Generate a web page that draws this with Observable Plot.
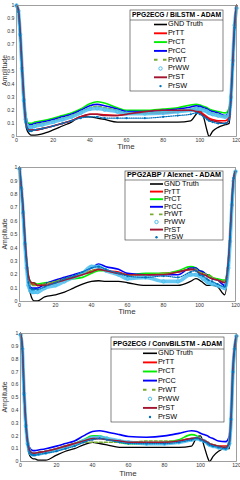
<!DOCTYPE html>
<html><head><meta charset="utf-8">
<script src="https://cdn.jsdelivr.net/npm/d3@7"></script>
<script src="https://cdn.jsdelivr.net/npm/@observablehq/plot@0.6"></script>
<style>
body{margin:0;background:#fff;width:240px;overflow:hidden}
#chart svg{display:block}
</style></head><body><div id="chart"></div>
<script>
// ---------- data ----------
const T = [0,1,2,3,4,5,6,7,8,10,14,20,25,30,35,40,44,48,55,60,70,80,88,95,98,100,102,104,105,107,110,114,116,117,118,119,120];
const xTicks = [0,20,40,60,80,100,120];
const yTicks = [0,0.1,0.2,0.3,0.4,0.5,0.6,0.7,0.8,0.9,1];
const seriesNames = ["GND Truth","PrTT","PrCT","PrCC","PrWT","PrWW","PrST","PrSW"];
const panelTitles = ["PPG2ECG / BiLSTM - ADAM","PPG2ABP / Alexnet - ADAM","PPG2ECG / ConvBiLSTM - ADAM"];

// Panel 1: PPG2ECG / BiLSTM
const p1Gnd = [1.0,0.98,0.78,0.5,0.25,0.09,0.04,0.02,0.01,0.01,0.02,0.05,0.08,0.11,0.15,0.15,0.14,0.13,0.11,0.11,0.11,0.11,0.11,0.12,0.17,0.2,0.15,0.04,0.0,0.04,0.07,0.09,0.1,0.3,0.6,0.88,1.0];
const p1TT  = [1.0,0.97,0.8,0.54,0.3,0.13,0.07,0.05,0.05,0.05,0.06,0.08,0.1,0.12,0.15,0.17,0.17,0.165,0.16,0.17,0.18,0.18,0.19,0.2,0.2,0.19,0.17,0.15,0.14,0.13,0.12,0.12,0.15,0.3,0.58,0.86,1.0];
const p1CT  = [1.0,0.97,0.8,0.55,0.32,0.17,0.11,0.1,0.1,0.11,0.12,0.14,0.16,0.18,0.21,0.25,0.265,0.255,0.22,0.2,0.2,0.21,0.22,0.24,0.245,0.24,0.23,0.22,0.21,0.2,0.19,0.18,0.22,0.35,0.6,0.85,1.0];
const p1CC  = [1.0,0.97,0.8,0.55,0.32,0.16,0.1,0.09,0.09,0.1,0.11,0.13,0.15,0.17,0.2,0.235,0.245,0.235,0.21,0.19,0.19,0.2,0.21,0.225,0.235,0.23,0.22,0.21,0.2,0.19,0.18,0.16,0.2,0.35,0.62,0.88,1.0];
const p1WT  = [1.0,0.97,0.8,0.55,0.31,0.15,0.09,0.08,0.08,0.09,0.1,0.12,0.14,0.16,0.19,0.22,0.23,0.22,0.2,0.18,0.18,0.19,0.2,0.21,0.22,0.22,0.21,0.2,0.19,0.18,0.17,0.15,0.18,0.32,0.6,0.86,1.0];
const p1WW  = [1.0,0.96,0.78,0.52,0.28,0.13,0.08,0.07,0.07,0.08,0.09,0.11,0.13,0.15,0.18,0.21,0.215,0.205,0.19,0.175,0.175,0.18,0.19,0.2,0.21,0.21,0.2,0.19,0.18,0.17,0.16,0.15,0.17,0.3,0.58,0.85,0.98];
const p1ST  = [1.0,0.97,0.8,0.54,0.3,0.12,0.06,0.05,0.05,0.05,0.06,0.08,0.1,0.12,0.15,0.17,0.17,0.16,0.16,0.17,0.19,0.2,0.2,0.2,0.19,0.18,0.16,0.14,0.13,0.12,0.11,0.1,0.13,0.3,0.58,0.86,1.0];
const p1SW  = [1.0,0.95,0.77,0.5,0.27,0.11,0.06,0.04,0.04,0.05,0.06,0.08,0.1,0.12,0.14,0.15,0.15,0.14,0.14,0.14,0.14,0.15,0.16,0.17,0.18,0.17,0.15,0.13,0.12,0.11,0.1,0.1,0.13,0.28,0.55,0.83,0.98];

// Panel 2: PPG2ABP / Alexnet
const p2Gnd = [1.0,0.85,0.66,0.44,0.26,0.13,0.06,0.02,0.005,0.005,0.035,0.05,0.07,0.1,0.13,0.15,0.155,0.15,0.15,0.14,0.12,0.12,0.12,0.15,0.17,0.16,0.14,0.12,0.12,0.12,0.11,0.05,0.25,0.45,0.7,0.9,0.97];
const p2TT  = [1.0,0.86,0.7,0.47,0.3,0.18,0.14,0.13,0.13,0.12,0.13,0.15,0.17,0.19,0.21,0.23,0.24,0.23,0.22,0.2,0.2,0.21,0.22,0.24,0.24,0.22,0.21,0.2,0.2,0.18,0.16,0.15,0.3,0.5,0.75,0.93,0.97];
const p2CT  = [1.0,0.86,0.7,0.48,0.3,0.19,0.15,0.14,0.14,0.13,0.14,0.15,0.16,0.17,0.18,0.21,0.23,0.23,0.21,0.2,0.21,0.21,0.23,0.26,0.25,0.23,0.22,0.2,0.2,0.18,0.17,0.16,0.3,0.5,0.75,0.93,0.97];
const p2CC  = [1.0,0.85,0.68,0.45,0.28,0.15,0.11,0.1,0.1,0.1,0.13,0.16,0.18,0.2,0.22,0.25,0.28,0.26,0.24,0.21,0.2,0.2,0.2,0.25,0.25,0.23,0.22,0.2,0.19,0.17,0.16,0.12,0.28,0.5,0.75,0.93,0.97];
const p2WT  = [1.0,0.86,0.69,0.47,0.29,0.17,0.13,0.12,0.12,0.12,0.13,0.15,0.17,0.19,0.21,0.23,0.24,0.23,0.21,0.2,0.2,0.21,0.22,0.24,0.24,0.22,0.21,0.2,0.19,0.18,0.16,0.15,0.3,0.5,0.75,0.93,0.97];
const p2WW  = [0.99,0.84,0.66,0.43,0.25,0.12,0.08,0.07,0.07,0.07,0.1,0.12,0.15,0.18,0.21,0.26,0.26,0.23,0.2,0.17,0.18,0.15,0.15,0.2,0.2,0.19,0.17,0.15,0.14,0.13,0.12,0.1,0.25,0.45,0.72,0.9,0.97];
const p2ST  = [1.0,0.86,0.7,0.48,0.3,0.19,0.15,0.14,0.14,0.12,0.12,0.14,0.16,0.18,0.2,0.22,0.24,0.23,0.21,0.2,0.2,0.2,0.22,0.24,0.23,0.21,0.2,0.19,0.18,0.17,0.16,0.14,0.3,0.5,0.75,0.93,0.97];
const p2SW  = [0.99,0.85,0.67,0.44,0.27,0.14,0.1,0.09,0.09,0.09,0.11,0.14,0.17,0.19,0.22,0.25,0.26,0.24,0.21,0.19,0.18,0.19,0.18,0.22,0.23,0.2,0.19,0.17,0.16,0.15,0.13,0.11,0.27,0.48,0.74,0.92,0.97];

// Panel 3: PPG2ECG / ConvBiLSTM
const p3Gnd = [1.0,0.9,0.55,0.28,0.12,0.05,0.03,0.02,0.02,0.01,0.01,0.05,0.08,0.1,0.13,0.15,0.14,0.13,0.11,0.11,0.11,0.11,0.11,0.12,0.19,0.2,0.12,0.03,0.0,0.04,0.08,0.1,0.1,0.3,0.6,0.88,0.98];
const p3TT  = [1.0,0.9,0.55,0.3,0.15,0.09,0.07,0.065,0.065,0.07,0.08,0.1,0.12,0.14,0.16,0.175,0.18,0.175,0.16,0.15,0.14,0.15,0.16,0.18,0.18,0.17,0.16,0.15,0.14,0.13,0.12,0.12,0.15,0.35,0.72,0.9,0.98];
const p3CT  = [1.0,0.9,0.55,0.3,0.15,0.09,0.07,0.065,0.065,0.07,0.08,0.1,0.12,0.14,0.17,0.2,0.2,0.18,0.15,0.14,0.14,0.15,0.17,0.21,0.2,0.18,0.16,0.15,0.14,0.13,0.12,0.11,0.15,0.35,0.72,0.9,0.98];
const p3CC  = [1.0,0.9,0.56,0.3,0.16,0.11,0.09,0.085,0.085,0.09,0.1,0.12,0.14,0.16,0.2,0.235,0.24,0.23,0.21,0.195,0.19,0.2,0.22,0.24,0.235,0.22,0.21,0.2,0.19,0.18,0.16,0.155,0.2,0.4,0.75,0.92,0.98];
const p3WT  = [1.0,0.9,0.55,0.3,0.15,0.09,0.07,0.06,0.06,0.065,0.075,0.09,0.11,0.13,0.15,0.15,0.15,0.15,0.15,0.15,0.16,0.16,0.16,0.18,0.18,0.17,0.16,0.15,0.14,0.13,0.12,0.11,0.15,0.35,0.72,0.9,0.98];
const p3WW  = [0.99,0.88,0.53,0.28,0.14,0.08,0.06,0.055,0.055,0.06,0.07,0.09,0.11,0.13,0.16,0.185,0.19,0.18,0.16,0.15,0.14,0.14,0.15,0.17,0.18,0.17,0.16,0.14,0.13,0.12,0.11,0.1,0.14,0.33,0.7,0.88,0.98];
const p3ST  = [1.0,0.9,0.55,0.3,0.15,0.09,0.07,0.065,0.065,0.07,0.08,0.1,0.12,0.14,0.16,0.18,0.18,0.17,0.16,0.15,0.15,0.15,0.16,0.18,0.185,0.175,0.165,0.15,0.14,0.13,0.12,0.11,0.15,0.35,0.72,0.9,0.98];
const p3SW  = [0.99,0.88,0.52,0.27,0.13,0.07,0.055,0.05,0.05,0.055,0.065,0.08,0.1,0.12,0.15,0.17,0.18,0.17,0.15,0.14,0.14,0.14,0.15,0.17,0.18,0.17,0.155,0.14,0.13,0.12,0.11,0.1,0.14,0.33,0.7,0.88,0.98];

// ---------- styles / layout ----------
const FONT = "'Liberation Sans', Arial, Helvetica, sans-serif";
const styles = [
  {type:"line", color:"#000000", w:1.3},
  {type:"line", color:"#ff0000", w:1.6},
  {type:"line", color:"#00ee00", w:1.6},
  {type:"line", color:"#0000ff", w:1.6},
  {type:"dash", color:"#77ac30", w:1.6},
  {type:"circle", color:"#4dbeee", w:1.5},
  {type:"line", color:"#a2142f", w:1.6},
  {type:"dot", color:"#0072bd", w:1.2}
];
const panels = [
  {series:[p1Gnd,p1TT,p1CT,p1CC,p1WT,p1WW,p1ST,p1SW], m:{l:16,r:4,t:5,b:24}, timeY:147,
   lg:{x0:130,x1:223,y0:10,y1:91,ty:15,sep:20,ey:24.5,step:8.8,lx0:154,lx1:167,tx:168}},
  {series:[p2Gnd,p2TT,p2CT,p2CC,p2WT,p2WW,p2ST,p2SW], m:{l:19,r:5,t:7,b:19}, timeY:152,
   lg:{x0:125,x1:223,y0:11,y1:80,ty:15.5,sep:20,ey:24,step:7.6,lx0:150,lx1:163,tx:164}},
  {series:[p3Gnd,p3TT,p3CT,p3CC,p3WT,p3WW,p3ST,p3SW], m:{l:20,r:4,t:13,b:19}, timeY:154,
   lg:{x0:111,x1:224,y0:17,y1:102,ty:24,sep:29,ey:33.3,step:9.1,lx0:143,lx1:157,tx:158}}
];

function seriesMarks(arr, st) {
  const data = T.map((t,i)=>({t, v:arr[i]}));
  const base = {x:"t", y:"v", curve:"monotone-x", stroke:st.color};
  if (st.type==="line") return [Plot.line(data,{...base, strokeWidth:st.w})];
  if (st.type==="dash") return [Plot.line(data,{...base, strokeWidth:st.w, strokeDasharray:"3,2"})];
  if (st.type==="circle") return [
    Plot.line(data,{...base, strokeWidth:3.6, strokeOpacity:0.85}),
    Plot.dot(data,{x:"t", y:"v", r:1.7, stroke:st.color, strokeWidth:0.9, fill:"none"})
  ];
  return [
    Plot.line(data,{...base, strokeWidth:1.2, strokeDasharray:"1,1.2"}),
    Plot.dot(data,{x:"t", y:"v", r:1.1, fill:st.color, stroke:"none"})
  ];
}

const root = document.getElementById("chart");
panels.forEach((p, pi) => {
  const marks = [];
  p.series.forEach((arr, si) => marks.push(...seriesMarks(arr, styles[si])));
  marks.push(Plot.frame({stroke:"#888", strokeWidth:0.8}));
  const svg = Plot.plot({
    width:240, height:160,
    marginLeft:p.m.l, marginRight:p.m.r, marginTop:p.m.t, marginBottom:p.m.b,
    style:{fontSize:"5.2px", fontFamily:FONT, color:"#333", background:"#fff"},
    x:{domain:[0,120], ticks:xTicks, tickSize:0, tickPadding:2.2, label:null, tickFormat:d3.format("d")},
    y:{domain:[0,1], ticks:yTicks, tickSize:0, tickPadding:2, label:null, tickFormat:d=>String(d)},
    marks
  });
  const s = d3.select(svg);
  const plotTop = p.m.t, plotBot = 160 - p.m.b;
  // axis labels
  s.append("text").attr("transform",`translate(5,${(plotTop+plotBot)/2}) rotate(-90)`)
    .attr("text-anchor","middle").attr("dominant-baseline","middle")
    .style("font","7px "+FONT).attr("fill","#333").text("Amplitude");
  s.append("text").attr("x",(p.m.l+240-p.m.r)/2).attr("y",p.timeY)
    .attr("text-anchor","middle").attr("dominant-baseline","middle")
    .style("font","8px "+FONT).attr("fill","#333").text("Time");
  // legend
  const L = p.lg;
  const g = s.append("g").attr("text-anchor","start");
  g.append("rect").attr("x",L.x0).attr("y",L.y0).attr("width",L.x1-L.x0).attr("height",L.y1-L.y0)
    .attr("fill","#fff").attr("stroke","#333").attr("stroke-width",0.6);
  g.append("line").attr("x1",L.x0).attr("x2",L.x1).attr("y1",L.sep).attr("y2",L.sep)
    .attr("stroke","#333").attr("stroke-width",0.6);
  g.append("text").attr("x",(L.x0+L.x1)/2).attr("y",L.ty).attr("text-anchor","middle")
    .attr("dominant-baseline","middle").style("font","bold 6.8px "+FONT).attr("fill","#000")
    .attr("textLength",L.x1-L.x0-4).attr("lengthAdjust","spacingAndGlyphs").text(panelTitles[pi]);
  seriesNames.forEach((name, i) => {
    const y = L.ey + i*L.step, st = styles[i];
    if (st.type==="line" || st.type==="dash") {
      g.append("line").attr("x1",L.lx0).attr("x2",L.lx1).attr("y1",y).attr("y2",y)
        .attr("stroke",st.color).attr("stroke-width",st.w+0.3)
        .attr("stroke-dasharray", st.type==="dash" ? "3.5,5.5" : null);
    } else if (st.type==="circle") {
      g.append("circle").attr("cx",(L.lx0+L.lx1)/2).attr("cy",y).attr("r",1.7)
        .attr("fill","none").attr("stroke",st.color).attr("stroke-width",1);
    } else {
      g.append("circle").attr("cx",(L.lx0+L.lx1)/2).attr("cy",y).attr("r",1.2).attr("fill",st.color);
    }
    g.append("text").attr("x",L.tx).attr("y",y).attr("dominant-baseline","middle")
      .attr("text-anchor","start")
      .style("font","7.3px "+FONT).attr("fill","#000").text(name);
  });
  root.appendChild(svg);
});
</script></body></html>
